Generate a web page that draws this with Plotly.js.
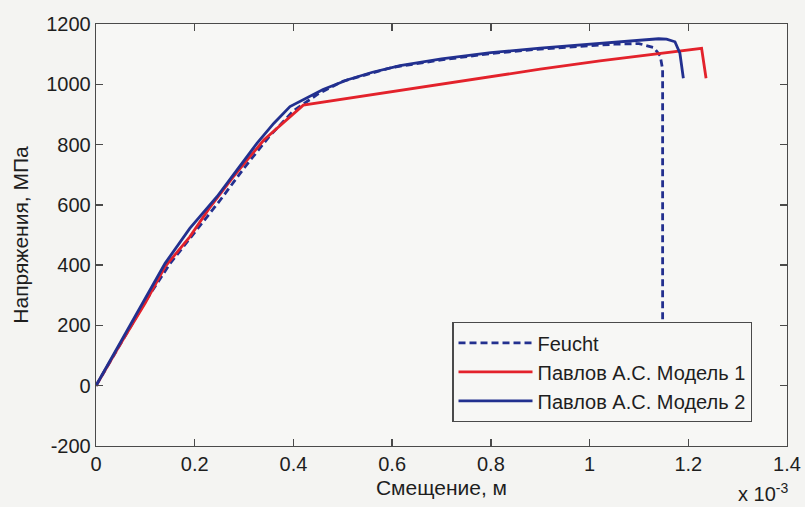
<!DOCTYPE html>
<html>
<head>
<meta charset="utf-8">
<script src="https://cdn.plot.ly/plotly-3.0.1.min.js"></script>
<style>html,body{margin:0;padding:0;background:#f4f4f2;}</style>
</head>
<body>
<div id="chart" style="width:805px;height:507px;"></div>
<script>
// Displacement in metres, stress in MPa
const feuchtX = [0, 0.00005, 0.0001, 0.00015, 0.0002, 0.00025, 0.0003, 0.00035, 0.0004, 0.00045, 0.0005, 0.0006, 0.0007, 0.0008, 0.0009, 0.001, 0.00105, 0.0011, 0.00113, 0.001143, 0.001148, 0.001148];
const feuchtY = [0, 140, 280, 405, 510, 612, 722, 825, 912, 968, 1010, 1056, 1081, 1102, 1117, 1128, 1133, 1135, 1122, 1095, 1050, 0];

const model1X = [0, 0.00005, 0.0001, 0.00014, 0.00019, 0.00023, 0.000278, 0.00034, 0.00042, 0.0005, 0.000616, 0.0007, 0.0008, 0.0009, 0.001021, 0.0011, 0.001227, 0.001236];
const model1Y = [0, 140, 275, 395, 494, 590, 693, 815, 931, 951, 981, 1001, 1025, 1050, 1078, 1094, 1119, 1020];

const model2X = [0, 0.00005, 0.0001, 0.00014, 0.00019, 0.000245, 0.00029, 0.000326, 0.00036, 0.000393, 0.00046, 0.00051, 0.00056, 0.000616, 0.0007, 0.0008, 0.0009, 0.001, 0.0011, 0.00114, 0.001156, 0.001173, 0.001183, 0.00119];
const model2Y = [0, 145, 290, 406, 522, 627, 725, 804, 870, 926, 983, 1015, 1040, 1062, 1084, 1105, 1120, 1133, 1146, 1151, 1150, 1141, 1103, 1020];

const seriesNames = ['Feucht', 'Павлов А.С. Модель 1', 'Павлов А.С. Модель 2'];
const xTickVals = [0, 0.0002, 0.0004, 0.0006, 0.0008, 0.001, 0.0012, 0.0014];
const xTickText = ['0', '0.2', '0.4', '0.6', '0.8', '1', '1.2', '1.4'];
const yTickVals = [-200, 0, 200, 400, 600, 800, 1000, 1200];
const yTickText = ['-200', '0', '200', '400', '600', '800', '1000', '1200'];

const FAM = 'Liberation Sans, Arial, sans-serif';
const tickFont = {family: FAM, size: 20, color: '#1e1e1e'};
const titleFont = {family: FAM, size: 21, color: '#1e1e1e'};

const traces = [
  {x: feuchtX, y: feuchtY, name: seriesNames[0], mode: 'lines',
   line: {color: '#23308f', width: 2.8, dash: '7px,4px'}},
  {x: model1X, y: model1Y, name: seriesNames[1], mode: 'lines',
   line: {color: '#e3222b', width: 2.8}},
  {x: model2X, y: model2Y, name: seriesNames[2], mode: 'lines',
   line: {color: '#22308f', width: 2.8}}
];

const axisCommon = {
  showgrid: false, zeroline: false, showline: true, linecolor: '#4a4a4a', linewidth: 1.3,
  mirror: 'ticks', ticks: 'inside', ticklen: 7, tickcolor: '#4a4a4a', tickwidth: 1.3,
  tickfont: tickFont
};

const layout = {
  width: 805, height: 507,
  margin: {l: 96, r: 18, t: 24, b: 61},
  paper_bgcolor: '#f4f4f2', plot_bgcolor: '#f7f7f5',
  font: tickFont,
  showlegend: true,
  legend: {x: 0.5155, y: 0.2935, xanchor: 'left', yanchor: 'top',
           bgcolor: '#f7f7f5', bordercolor: '#4a4a4a', borderwidth: 1.3,
           itemwidth: 74, font: {family: FAM, size: 20, color: '#1e1e1e'}},
  xaxis: Object.assign({}, axisCommon, {
    range: [0, 0.0014], tickvals: xTickVals, ticktext: xTickText,
    title: {text: 'Смещение, м', font: titleFont, standoff: 6}
  }),
  yaxis: Object.assign({}, axisCommon, {
    range: [-200, 1200], tickvals: yTickVals, ticktext: yTickText,
    title: {text: 'Напряжения, МПа', font: titleFont, standoff: 12}
  }),
  annotations: [{
    xref: 'paper', yref: 'paper', x: 1.004, y: -0.1445, xanchor: 'right', yanchor: 'bottom',
    text: 'x 10<sup>-3</sup>', showarrow: false, font: tickFont
  }]
};

Plotly.newPlot('chart', traces, layout, {staticPlot: true});
</script>
</body>
</html>
